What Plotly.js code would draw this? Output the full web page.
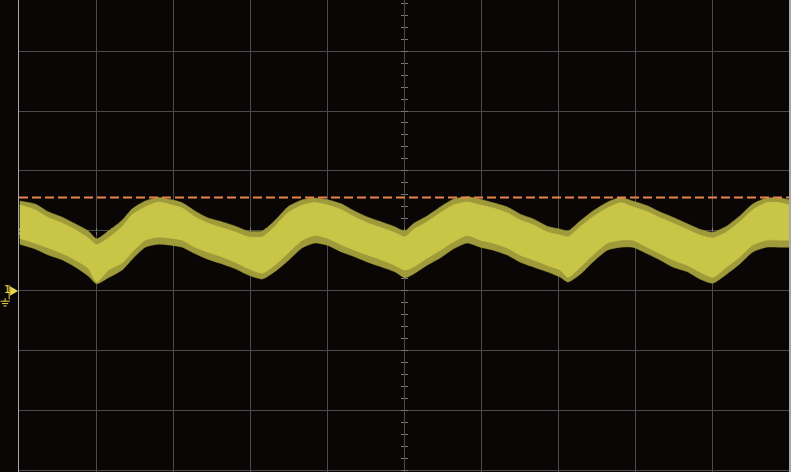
<!DOCTYPE html>
<html>
<head>
<meta charset="utf-8">
<script src="https://cdn.plot.ly/plotly-3.0.1.min.js"></script>
<style>
  html, body { margin: 0; padding: 0; background: #0a0606; }
  #chart { width: 791px; height: 472px; }
</style>
</head>
<body>
<div id="chart"></div>
<script>
// Time axis position in divisions (10 horizontal divisions, centre = 0)
const timeDiv = [-4.99,-4.79,-4.62,-4.44,-4.27,-4.10,-3.99,-3.84,-3.66,-3.53,-3.36,-3.19,-3.01,-2.88,-2.71,-2.55,-2.36,-2.19,-2.03,-1.84,-1.68,-1.51,-1.32,-1.16,-0.99,-0.81,-0.64,-0.47,-0.29,-0.12,0.01,0.12,0.30,0.47,0.64,0.82,0.99,1.16,1.34,1.51,1.68,1.86,2.03,2.13,2.29,2.45,2.64,2.81,2.97,3.16,3.32,3.49,3.68,3.84,4.01,4.19,4.36,4.53,4.71,4.88,5.00];
// Upper envelope of the dense CH1 trace body (divisions)
const traceUpper = [0.43,0.35,0.22,0.13,0.02,-0.12,-0.23,-0.12,0.07,0.27,0.40,0.48,0.43,0.38,0.23,0.13,0.05,-0.02,-0.10,-0.10,0.07,0.30,0.43,0.47,0.43,0.35,0.23,0.13,0.05,-0.03,-0.10,0.02,0.15,0.30,0.43,0.48,0.43,0.38,0.30,0.18,0.10,-0.02,-0.07,-0.10,0.07,0.23,0.38,0.47,0.40,0.32,0.22,0.13,0.02,-0.07,-0.12,-0.02,0.15,0.35,0.47,0.47,0.43];
// Lower envelope of the dense CH1 trace body (divisions)
const traceLower = [-0.12,-0.20,-0.28,-0.37,-0.48,-0.62,-0.85,-0.65,-0.53,-0.35,-0.15,-0.10,-0.12,-0.15,-0.27,-0.35,-0.43,-0.52,-0.62,-0.70,-0.57,-0.37,-0.15,-0.07,-0.12,-0.23,-0.32,-0.40,-0.48,-0.57,-0.65,-0.60,-0.45,-0.32,-0.18,-0.07,-0.15,-0.20,-0.28,-0.40,-0.48,-0.57,-0.65,-0.77,-0.60,-0.40,-0.20,-0.15,-0.15,-0.27,-0.37,-0.48,-0.57,-0.68,-0.77,-0.60,-0.43,-0.23,-0.15,-0.15,-0.15];
// Extent of the noise spikes above / below the body (divisions)
const spikeUpper = [0.50,0.45,0.32,0.23,0.12,0.00,-0.13,0.00,0.18,0.37,0.50,0.56,0.52,0.47,0.33,0.22,0.15,0.08,0.00,0.00,0.17,0.40,0.52,0.55,0.52,0.45,0.33,0.23,0.15,0.07,0.00,0.12,0.25,0.40,0.53,0.57,0.53,0.47,0.40,0.28,0.20,0.08,0.03,0.00,0.17,0.33,0.48,0.56,0.50,0.42,0.32,0.23,0.12,0.03,-0.02,0.08,0.25,0.45,0.55,0.55,0.52];
const spikeLower = [-0.22,-0.30,-0.40,-0.48,-0.60,-0.75,-0.88,-0.78,-0.65,-0.47,-0.27,-0.22,-0.24,-0.27,-0.38,-0.47,-0.55,-0.63,-0.73,-0.80,-0.68,-0.50,-0.28,-0.20,-0.24,-0.35,-0.43,-0.52,-0.60,-0.68,-0.78,-0.72,-0.57,-0.45,-0.30,-0.20,-0.27,-0.32,-0.40,-0.52,-0.60,-0.68,-0.77,-0.85,-0.72,-0.52,-0.32,-0.27,-0.27,-0.38,-0.48,-0.60,-0.68,-0.80,-0.87,-0.72,-0.55,-0.35,-0.27,-0.27,-0.27];
// Trigger level (dashed) and channel-1 ground reference, in divisions
const triggerLevel = [0.56];
const groundLevel = [-1];
const xRange = [-5, 5];
const yRange = [-4.017, 3.85];

const yellow = '#c9c547';
const haze = '#9f9b3a';
const gridCol = '#4b4b4b';
const tickCol = '#7a7a7a';
const markCol = '#e6d84a';
const smooth = {shape: 'spline', smoothing: 0.6};

const traces = [
  { x: timeDiv, y: spikeLower, mode: 'lines', line: Object.assign({color: haze, width: 0.5}, smooth), hoverinfo: 'skip', showlegend: false },
  { x: timeDiv, y: spikeUpper, mode: 'lines', line: Object.assign({color: haze, width: 0.5}, smooth), fill: 'tonexty', fillcolor: haze, hoverinfo: 'skip', showlegend: false },
  { x: timeDiv, y: traceLower, mode: 'lines', line: Object.assign({color: yellow, width: 1}, smooth), hoverinfo: 'skip', showlegend: false },
  { x: timeDiv, y: traceUpper, mode: 'lines', line: Object.assign({color: yellow, width: 1}, smooth), fill: 'tonexty', fillcolor: yellow, hoverinfo: 'skip', showlegend: false },
  { x: xRange, y: [triggerLevel[0], triggerLevel[0]], mode: 'lines', line: {color: '#e8834a', width: 2, dash: '9px,4px'}, hoverinfo: 'skip', showlegend: false }
];

const centreTickAxis = (extra) => Object.assign({
  showgrid: false, zeroline: false, showticklabels: false, showline: false, layer: 'below traces',
  ticks: 'outside', ticklen: 3, tickwidth: 1, tickcolor: tickCol, dtick: 0.2, tick0: 0, fixedrange: true
}, extra);

const layout = {
  width: 791, height: 472,
  margin: {l: 19, r: 2, t: 0, b: 0, pad: 0},
  paper_bgcolor: '#0a0606', plot_bgcolor: '#0a0606',
  showlegend: false,
  xaxis: { range: xRange, dtick: 1, tick0: 0, showgrid: true, gridcolor: gridCol, gridwidth: 1,
           zeroline: false, showticklabels: false, ticks: '', showline: false, fixedrange: true },
  yaxis: { range: yRange, dtick: 1, tick0: 0, showgrid: true, gridcolor: gridCol, gridwidth: 1,
           zeroline: false, showticklabels: false, ticks: '', showline: true, mirror: true,
           linecolor: '#a8a8a8', linewidth: 1.5, fixedrange: true },
  xaxis2: centreTickAxis({ overlaying: 'x', matches: 'x', anchor: 'free', position: 241/472, side: 'bottom' }),
  xaxis3: centreTickAxis({ overlaying: 'x', matches: 'x', anchor: 'free', position: 241/472, side: 'top' }),
  yaxis2: centreTickAxis({ overlaying: 'y', matches: 'y', anchor: 'free', position: 0.5, side: 'left' }),
  yaxis3: centreTickAxis({ overlaying: 'y', matches: 'y', anchor: 'free', position: 0.5, side: 'right' }),
  shapes: [
    // channel 1 ground marker arrow
    { type: 'path', xref: 'paper', yref: 'y', path: 'M -0.0115 ' + (groundLevel[0] + 0.08) + ' L -0.0012 ' + groundLevel[0] + ' L -0.0115 ' + (groundLevel[0] - 0.08) + ' Z', fillcolor: markCol, line: {width: 0} },
    { type: 'line', xref: 'paper', yref: 'y', x0: -0.0128, x1: -0.0128, y0: groundLevel[0] + 0.1, y1: groundLevel[0] - 0.14, line: {color: markCol, width: 1} },
    // ground symbol
    { type: 'line', xref: 'paper', yref: 'y', x0: -0.0180, x1: -0.0180, y0: groundLevel[0] - 0.12, y1: groundLevel[0] - 0.17, line: {color: markCol, width: 1} },
    { type: 'line', xref: 'paper', yref: 'y', x0: -0.0240, x1: -0.0120, y0: groundLevel[0] - 0.17, y1: groundLevel[0] - 0.17, line: {color: markCol, width: 1} },
    { type: 'line', xref: 'paper', yref: 'y', x0: -0.0220, x1: -0.0140, y0: groundLevel[0] - 0.21, y1: groundLevel[0] - 0.21, line: {color: markCol, width: 1} },
    { type: 'line', xref: 'paper', yref: 'y', x0: -0.0200, x1: -0.0160, y0: groundLevel[0] - 0.25, y1: groundLevel[0] - 0.25, line: {color: markCol, width: 1} }
  ],
  annotations: [
    { xref: 'paper', yref: 'y', x: -0.0225, y: groundLevel[0] + 0.02, text: '1', showarrow: false,
      xanchor: 'left', yanchor: 'middle', font: {family: 'DejaVu Sans', size: 10, color: markCol} }
  ]
};

// empty traces on overlay axes so the centre tick axes are drawn
traces.push({ x: [], y: [], xaxis: 'x2', yaxis: 'y2', hoverinfo: 'skip', showlegend: false });
traces.push({ x: [], y: [], xaxis: 'x3', yaxis: 'y3', hoverinfo: 'skip', showlegend: false });

Plotly.newPlot('chart', traces, layout, {displayModeBar: false, staticPlot: true});
</script>
</body>
</html>
